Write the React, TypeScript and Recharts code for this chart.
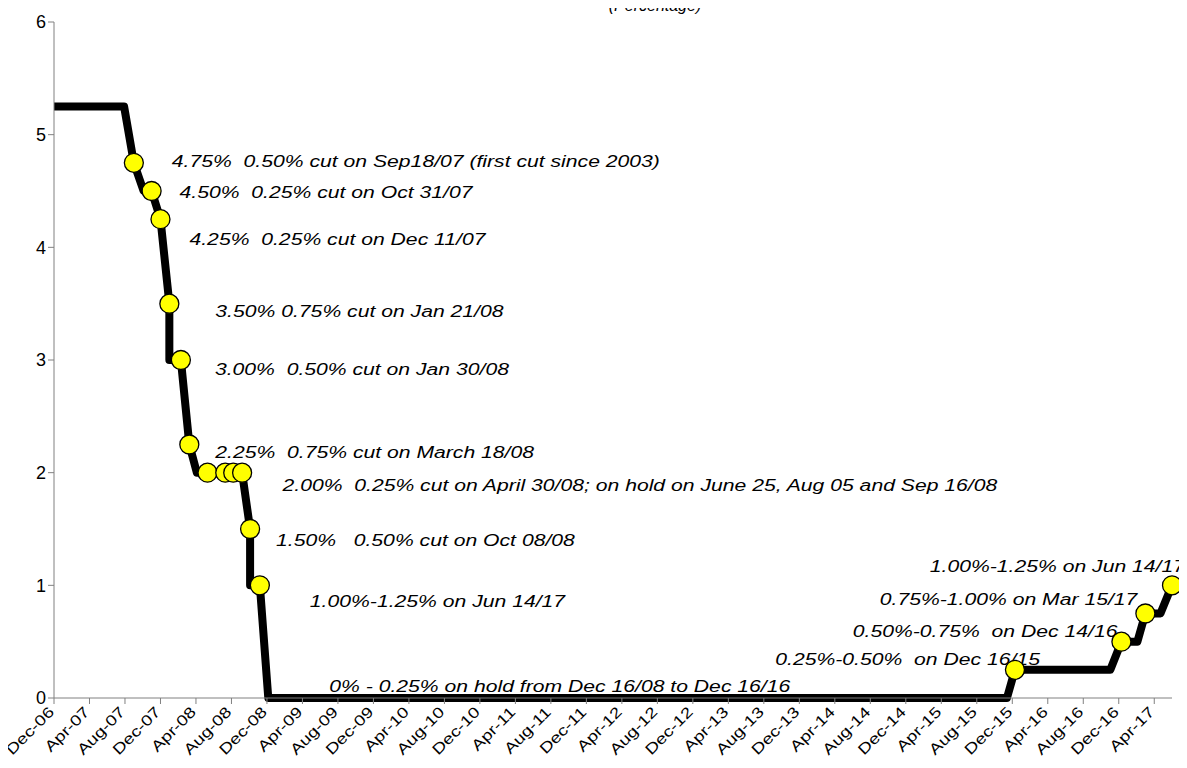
import React from "react";
import {
  ComposedChart,
  Line,
  Scatter,
  XAxis,
  YAxis,
  ReferenceDot,
} from "recharts";

// x values are months counted from Dec-06
const tickLabels = [
  "Dec-06", "Apr-07", "Aug-07", "Dec-07", "Apr-08", "Aug-08", "Dec-08",
  "Apr-09", "Aug-09", "Dec-09", "Apr-10", "Aug-10", "Dec-10", "Apr-11",
  "Aug-11", "Dec-11", "Apr-12", "Aug-12", "Dec-12", "Apr-13", "Aug-13",
  "Dec-13", "Apr-14", "Aug-14", "Dec-14", "Apr-15", "Aug-15", "Dec-15",
  "Apr-16", "Aug-16", "Dec-16", "Apr-17",
];

const lineMonths = [
  0, 7.9, 9.0, 10.1, 11.0, 12.0, 13.0, 13.0, 14.3, 15.25, 16.1, 21.2, 22.1,
  22.1, 23.2, 24.15, 107.4, 108.3, 119.05, 120.3, 122.1, 123.0, 124.7, 126.0,
];
const lineRates = [
  5.25, 5.25, 4.75, 4.5, 4.5, 4.25, 3.5, 3.0, 3.0, 2.25, 2.0, 2.0, 1.5, 1.0,
  1.0, 0, 0, 0.25, 0.25, 0.5, 0.5, 0.75, 0.75, 1.0,
];

const decisionMonths = [
  9.0, 11.0, 12.0, 13.0, 14.3, 15.25, 17.3, 19.3, 20.2, 21.2, 22.1, 23.2,
  108.3, 120.3, 123.0, 126.0,
];
const decisionRates = [
  4.75, 4.5, 4.25, 3.5, 3.0, 2.25, 2.0, 2.0, 2.0, 2.0, 1.5, 1.0, 0.25, 0.5,
  0.75, 1.0,
];
const decisionNotes = [
  "4.75%  0.50% cut on Sep18/07 (first cut since 2003)",
  "4.50%  0.25% cut on Oct 31/07",
  "4.25%  0.25% cut on Dec 11/07",
  "3.50% 0.75% cut on Jan 21/08",
  "3.00%  0.50% cut on Jan 30/08",
  "2.25%  0.75% cut on March 18/08",
  "2.00%  0.25% cut on April 30/08; on hold on June 25, Aug 05 and Sep 16/08",
  "",
  "",
  "",
  "1.50%   0.50% cut on Oct 08/08",
  "1.00%-1.25% on Jun 14/17",
  "0.25%-0.50%  on Dec 16/15",
  "0.50%-0.75%  on Dec 14/16",
  "0.75%-1.00% on Mar 15/17",
  "1.00%-1.25% on Jun 14/17",
];
const holdNote = "0% - 0.25% on hold from Dec 16/08 to Dec 16/16";
const title = "(Percentage)";

const lineData = lineMonths.map((m, i) => ({ month: m, rate: lineRates[i] }));
const decisions = decisionMonths.map((m, i) => ({
  month: m,
  rate: decisionRates[i],
  note: decisionNotes[i],
  idx: i,
}));

// label placement relative to each marker: [dx, dy, anchor]
const noteOffsets: [number, number, "start" | "end"][] = [
  [38, 4, "start"],
  [28, 7, "start"],
  [29, 26, "start"],
  [46, 13, "start"],
  [34, 15, "start"],
  [26, 13, "start"],
  [75, 18, "start"],
  [0, 0, "start"],
  [0, 0, "start"],
  [0, 0, "start"],
  [26, 17, "start"],
  [50, 22, "start"],
  [25, -5, "end"],
  [-4, -5, "end"],
  [-8, -9, "end"],
  [13, -13, "end"],
];

const FONT = "'Liberation Sans', Arial, sans-serif";
const STRETCH = 1.245;
const AXIS = "#808080";

function Note({ x, y, text, anchor }: { x: number; y: number; text: string; anchor: "start" | "end" }) {
  return (
    <g transform={`translate(${x},${y})`}>
      <text
        transform={`scale(${STRETCH},1)`}
        textAnchor={anchor}
        fontFamily={FONT}
        fontStyle="italic"
        fontSize={17}
        fill="#000"
        xmlSpace="preserve"
        style={{ whiteSpace: "pre" }}
      >
        {text}
      </text>
    </g>
  );
}

function DecisionDot(props: any) {
  const { cx, cy, payload } = props;
  const i = payload?.idx ?? props.index ?? 0;
  const [dx, dy, anchor] = noteOffsets[i];
  return (
    <g>
      {payload?.note ? (
        <Note x={cx + dx} y={cy + dy} text={payload.note} anchor={anchor} />
      ) : null}
      <circle cx={cx} cy={cy} r={9.5} fill="#FFFF00" stroke="#000" strokeWidth={1.3} />
    </g>
  );
}

function MonthTick(props: any) {
  const { x, y, payload } = props;
  const label = tickLabels[Math.round(payload.value / 4)];
  return (
    <g transform={`translate(${x + 1},${y + 7})`}>
      <text
        transform={`rotate(-45) scale(1.25,1)`}
        textAnchor="end"
        fontFamily={FONT}
        fontSize={15}
        fill="#000"
      >
        {label}
      </text>
    </g>
  );
}

export default function App() {
  const ticks = tickLabels.map((_, i) => i * 4);
  return (
    <div style={{ position: "relative", width: 1187, height: 768, margin: -8, background: "#fff" }}>
      <svg
        width={1187}
        height={30}
        style={{ position: "absolute", left: 0, top: 0, zIndex: 2 }}
      >
        <text
          x={655}
          y={11}
          textAnchor="middle"
          fontFamily={FONT}
          fontStyle="italic"
          fontSize={16}
          fill="#000"
        >
          {title}
        </text>
      </svg>
      <ComposedChart
        width={1187}
        height={768}
        margin={{ top: 22, right: 15, bottom: 10, left: 14 }}
      >
        <XAxis
          type="number"
          dataKey="month"
          domain={[0, 126]}
          ticks={ticks}
          interval={0}
          tickSize={6}
          axisLine={{ stroke: AXIS }}
          tickLine={{ stroke: AXIS }}
          height={60}
          tick={<MonthTick />}
        />
        <YAxis
          type="number"
          domain={[0, 6]}
          ticks={[0, 1, 2, 3, 4, 5, 6]}
          interval={0}
          tickSize={6}
          width={40}
          axisLine={{ stroke: AXIS }}
          tickLine={{ stroke: AXIS }}
          tick={{ fontSize: 18, fill: "#000", fontFamily: FONT }}
        />
        <Line
          data={lineData}
          dataKey="rate"
          type="linear"
          stroke="#000"
          strokeWidth={8}
          strokeLinejoin="round"
          dot={false}
          activeDot={false}
          isAnimationActive={false}
        />
        <ReferenceDot
          x={lineMonths[15]}
          y={0}
          r={0}
          shape={(p: any) => (
            <Note x={p.cx + 61} y={p.cy - 6} text={holdNote} anchor="start" />
          )}
        />
        <Scatter
          data={decisions}
          dataKey="rate"
          shape={<DecisionDot />}
          isAnimationActive={false}
        />
      </ComposedChart>
    </div>
  );
}
